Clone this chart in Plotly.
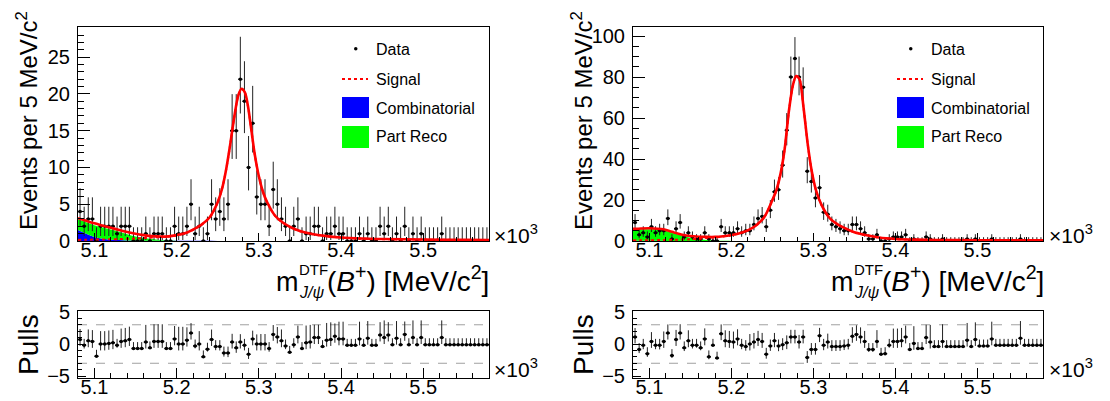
import math
import plotly.graph_objects as go

W, H = 1110, 401
FONT = "Liberation Sans, Arial, Helvetica, sans-serif"

# ---------------- data ----------------
bin_low_mev = 5080
bin_width_mev = 5
n_bins = 100
x_tick_vals = [5.1, 5.2, 5.3, 5.4, 5.5]

counts_left = [4, 2, 3, 3, 0, 2, 2, 2, 2, 1,
               2, 2, 2, 0, 0, 0, 1, 0, 1, 1,
               1, 0, 0, 2, 1, 1, 2, 5, 1, 2,
               0, 1, 5, 3, 4, 3, 5, 15, 15, 22,
               19, 10, 16, 6, 5, 5, 2, 7, 5, 3,
               2, 0, 2, 3, 0, 1, 1, 2, 2, 0,
               1, 1, 2, 1, 1, 0, 0, 0, 1, 0,
               1, 0, 0, 2, 1, 2, 0, 1, 0, 2,
               0, 1, 0, 1, 0, 0, 0, 0, 1, 0,
               0, 0, 0, 0, 0, 0, 0, 0, 0, 0]

pulls_left = [0.7, -0.2, 0.5, 0.4, -1.9, 0.0, 0.0, 0.1, 0.2, -0.2,
              0.4, 0.5, 0.7, -0.7, -0.7, -0.7, 0.3, -0.6, 0.4, 0.4,
              0.4, -0.7, -0.7, 0.8, 0.0, 0.0, 0.6, 1.7, -0.3, 0.0,
              -2.0, -0.8, 0.7, -0.4, -0.4, -1.4, -1.4, 0.3, -0.6, 0.3,
              -0.2, -1.6, 0.8, 0.0, 0.0, 0.0, -0.7, 1.5, 1.1, 0.5,
              -0.3, -1.3, -0.1, 1.1, -0.7, 0.2, 0.3, 1.0, 1.0, -0.4,
              0.6, 0.7, 1.2, 0.8, 0.8, -0.2, -0.2, -0.2, 0.8, -0.2,
              0.9, -0.2, -0.2, 1.4, 1.0, 1.4, -0.1, 0.9, -0.1, 1.5,
              -0.1, 1.0, -0.1, 1.0, -0.1, -0.1, -0.1, -0.1, 1.0, -0.1,
              -0.1, -0.1, -0.1, -0.1, -0.1, -0.1, -0.1, -0.1, -0.1, -0.1]

counts_right = [9, 3, 4, 2, 7, 4, 5, 5, 11, 1,
                6, 9, 2, 4, 2, 1, 1, 4, 1, 0,
                0, 7, 4, 4, 4, 6, 4, 5, 5, 8,
                11, 12, 7, 15, 24, 25, 37, 54, 80, 89,
                80, 75, 34, 29, 21, 26, 14, 13, 8, 7,
                6, 5, 5, 8, 8, 6, 4, 1, 1, 3,
                0, 0, 1, 2, 2, 2, 3, 0, 1, 0,
                0, 2, 1, 0, 0, 1, 0, 0, 0, 0,
                0, 1, 0, 1, 0, 0, 0, 1, 0, 0,
                0, 0, 0, 0, 1, 0, 0, 0, 0, 0]

pulls_right = [1.1, -0.85, -0.2, -1.5, 0.4, -0.2, -0.2, 0.4, 1.7, -1.8,
               0.7, 1.7, -0.6, 0.5, -0.2, -0.2, -0.6, 0.8, -2.0, -0.2,
               -2.2, 1.6, 0.5, 0.4, 0.3, 0.8, -0.2, -0.4, 0.0, 0.3,
               0.7, 0.4, -1.6, -0.3, 0.5, -0.3, -0.1, 0.2, 1.1, 1.1,
               0.3, 1.1, -2.1, -0.85, -0.85, 1.3, -0.2, 0.3, -0.4, -0.4,
               -0.4, -0.3, -0.2, 1.2, 1.5, 1.1, 0.4, -0.85, -0.85, 0.4,
               -1.6, -1.5, -0.2, 0.4, 0.4, 0.5, 1.1, -0.85, 0.1, -0.7,
               -0.7, 1.0, 0.3, -0.4, -0.4, 0.4, -0.4, -0.4, -0.4, -0.4,
               -0.4, 0.6, -0.4, 0.7, -0.3, -0.3, -0.3, 0.8, -0.2, -0.2,
               -0.2, -0.2, -0.2, -0.2, 0.9, -0.2, -0.2, -0.2, -0.2, -0.2]

# fit curves (MeV, events per bin)
mass_total_left = [5080, 5090, 5100, 5110, 5120, 5130, 5140, 5150, 5160, 5170,
                   5180, 5190, 5200, 5210, 5220, 5230, 5240, 5245, 5250, 5255,
                   5260, 5265, 5270, 5275, 5279, 5283, 5287, 5291, 5295, 5300,
                   5305, 5310, 5320, 5330, 5340, 5350, 5365, 5380, 5400, 5425,
                   5450, 5500, 5550, 5580]
total_left = [3.1, 2.75, 2.4, 2.1, 1.8, 1.5, 1.22, 0.98, 0.8, 0.66,
              0.6, 0.63, 0.8, 1.05, 1.55, 2.2, 3.2, 4.1, 5.3, 7.0,
              9.6, 13.0, 16.8, 19.8, 20.7, 20.2, 18.2, 15.0, 11.8, 8.8,
              6.7, 5.3, 3.4, 2.45, 1.8, 1.35, 0.95, 0.7, 0.48, 0.34,
              0.27, 0.2, 0.16, 0.14]
signal_left = [0.15, 0.17, 0.19, 0.21, 0.23, 0.26, 0.3, 0.34, 0.4, 0.46,
               0.53, 0.6, 0.76, 1.02, 1.53, 2.18, 3.18, 4.08, 5.28, 6.98,
               9.58, 12.98, 16.78, 19.78, 20.68, 20.18, 18.18, 14.98, 11.78, 8.78,
               6.68, 5.28, 3.38, 2.43, 1.78, 1.33, 0.93, 0.68, 0.46, 0.32,
               0.25, 0.18, 0.14, 0.12]

mass_total_right = [5080, 5090, 5100, 5110, 5117, 5125, 5130, 5140, 5150, 5160,
                    5170, 5180, 5190, 5200, 5210, 5220, 5230, 5240, 5250, 5255,
                    5260, 5265, 5270, 5275, 5279, 5283, 5288, 5293, 5298, 5303,
                    5310, 5320, 5330, 5340, 5350, 5365, 5380, 5400, 5425, 5450,
                    5500, 5550, 5580]
total_right = [5.9, 6.1, 6.2, 6.0, 5.7, 4.8, 4.2, 3.1, 2.4, 2.1,
               2.0, 2.0, 2.3, 2.9, 3.8, 5.2, 7.6, 11.6, 20.0, 25.0,
               33.0, 45.0, 63.0, 76.0, 80.5, 79.0, 65.0, 47.5, 34.0, 25.0,
               17.5, 11.1, 8.0, 6.0, 4.3, 2.8, 1.7, 1.0, 0.65, 0.5,
               0.35, 0.3, 0.3]
signal_right = [0.3, 0.35, 0.4, 0.45, 0.5, 0.55, 0.6, 0.7, 0.85, 1.1,
                1.5, 1.8, 2.2, 2.85, 3.75, 5.15, 7.55, 11.55, 19.95, 24.95,
                32.95, 44.95, 62.95, 75.95, 80.45, 78.95, 64.95, 47.45, 33.95, 24.95,
                17.45, 11.05, 7.95, 5.95, 4.25, 2.75, 1.65, 0.95, 0.6, 0.45,
                0.3, 0.25, 0.25]

mass_bkg = [5080, 5090, 5100, 5110, 5120, 5130, 5140, 5150, 5160, 5170,
            5180, 5190, 5200, 5220, 5250, 5300, 5400, 5580]
comb_left = [1.5, 1.0, 0.55, 0.3, 0.18, 0.12, 0.08, 0.06, 0.05, 0.04,
             0.03, 0.03, 0.02, 0.02, 0.01, 0.01, 0.01, 0.0]
partreco_left = [1.45, 1.55, 1.6, 1.55, 1.4, 1.15, 0.85, 0.56, 0.36, 0.22,
                 0.12, 0.06, 0.03, 0.0, 0.0, 0.0, 0.0, 0.0]
comb_right = [0.12, 0.1, 0.08, 0.07, 0.06, 0.05, 0.05, 0.04, 0.04, 0.03,
              0.03, 0.03, 0.02, 0.02, 0.02, 0.01, 0.01, 0.01]
partreco_right = [5.4, 5.6, 5.7, 5.6, 5.0, 3.7, 2.5, 1.6, 0.9, 0.45,
                  0.2, 0.08, 0.03, 0.0, 0.0, 0.0, 0.0, 0.0]

legend_labels = ["Data", "Signal", "Combinatorial", "Part Reco"]
y_title = "Events per 5 MeV/c<sup>2</sup>"
x_title_m = "m"
x_title_sup = "DTF"
x_title_sub = "<i>J/ψ</i>"
x_title_rest = "(<i>B</i><sup>+</sup>) [MeV/c<sup>2</sup>]"
pull_title = "Pulls"
pull_lines = [-3, 3]

# colours
C_SIG = "#ff0000"
C_COMB = "#0000ff"
C_PR = "#00ff00"

# ---------------- helpers ----------------
to_gev = lambda m: [v / 1000.0 for v in m]
x_lo = bin_low_mev / 1000.0
x_hi = (bin_low_mev + n_bins * bin_width_mev) / 1000.0
centers = [(bin_low_mev + (i + 0.5) * bin_width_mev) / 1000.0 for i in range(n_bins)]
half_w = bin_width_mev / 2000.0


def err_hi(n):
    return math.sqrt(n + 0.75) + 1.0


def err_lo(n):
    return math.sqrt(n - 0.25) if n > 0 else 0.0


def pull_errs(counts, pulls):
    up, dn = [], []
    for n, p in zip(counts, pulls):
        if n > 0 and p >= 0:
            dn.append(1.0)
            up.append(err_hi(n) / err_lo(n))
        else:
            up.append(1.0)
            dn.append(err_lo(n) / err_hi(n))
    return up, dn


def px(x):
    return x / W


def py(y):
    return 1 - y / H


fig = go.Figure()

panels = [
    dict(xa="x", ya="y", xp="x2", yp="y2", counts=counts_left, pulls=pulls_left,
         mt=mass_total_left, tot=total_left, sig=signal_left,
         comb=comb_left, pr=partreco_left, key="L"),
    dict(xa="x3", ya="y3", xp="x4", yp="y4", counts=counts_right, pulls=pulls_right,
         mt=mass_total_right, tot=total_right, sig=signal_right,
         comb=comb_right, pr=partreco_right, key="R"),
]

for p in panels:
    fig.add_trace(go.Scatter(x=to_gev(mass_bkg), y=p["comb"], xaxis=p["xa"], yaxis=p["ya"],
                             mode="lines", line=dict(width=0, color=C_COMB, shape="spline"),
                             stackgroup="bkg" + p["key"], fillcolor=C_COMB,
                             name="Combinatorial", showlegend=False, hoverinfo="skip"))
    fig.add_trace(go.Scatter(x=to_gev(mass_bkg), y=p["pr"], xaxis=p["xa"], yaxis=p["ya"],
                             mode="lines", line=dict(width=0, color=C_PR, shape="spline"),
                             stackgroup="bkg" + p["key"], fillcolor=C_PR,
                             name="Part Reco", showlegend=False, hoverinfo="skip"))
    c = p["counts"]
    fig.add_trace(go.Scatter(x=centers, y=c, xaxis=p["xa"], yaxis=p["ya"], mode="markers",
                             marker=dict(color="black", size=3.5),
                             error_y=dict(type="data", symmetric=False,
                                          array=[err_hi(n) for n in c],
                                          arrayminus=[err_lo(n) for n in c],
                                          color="#222222", thickness=1, width=0),
                             error_x=dict(type="constant", value=half_w, color="black",
                                          thickness=1.5, width=0),
                             name="Data", showlegend=False))
    fig.add_trace(go.Scatter(x=to_gev(p["mt"]), y=p["sig"], xaxis=p["xa"], yaxis=p["ya"],
                             mode="lines", line=dict(color=C_SIG, width=2, dash="dot",
                                                     shape="spline", smoothing=0.8),
                             name="Signal", showlegend=False))
    fig.add_trace(go.Scatter(x=to_gev(p["mt"]), y=p["tot"], xaxis=p["xa"], yaxis=p["ya"],
                             mode="lines", line=dict(color=C_SIG, width=2.6,
                                                     shape="spline", smoothing=0.8),
                             name="Total fit", showlegend=False))
    up, dn = pull_errs(c, p["pulls"])
    fig.add_trace(go.Scatter(x=centers, y=p["pulls"], xaxis=p["xp"], yaxis=p["yp"],
                             mode="markers", marker=dict(color="black", size=3.5),
                             error_y=dict(type="data", symmetric=False, array=up,
                                          arrayminus=dn, color="#222222", thickness=1, width=0),
                             error_x=dict(type="constant", value=half_w, color="black",
                                          thickness=1.5, width=0),
                             name="Pulls", showlegend=False))

# ---------------- axes ----------------
xL = [px(78), px(489)]
xR = [px(633), px(1043)]
yTop = [py(241), py(27)]
yPull = [py(378), py(311)]

tickfont = dict(family=FONT, size=20, color="black")
common = dict(showgrid=False, zeroline=False, showline=True, linecolor="black",
              linewidth=1, mirror=True, ticks="inside", tickcolor="black",
              tickfont=tickfont, automargin=False)


def xaxis(domain, anchor, ticklen):
    return dict(common, domain=domain, anchor=anchor, range=[x_lo, x_hi],
                tickvals=x_tick_vals, ticktext=[f"{v:.1f}" for v in x_tick_vals],
                ticklen=ticklen, ticklabelstandoff=-9,
                minor=dict(dtick=0.02, tick0=5.1, ticks="inside", ticklen=ticklen / 2,
                           tickcolor="black"))


fig.update_layout(
    xaxis=xaxis(xL, "y", 8),
    yaxis=dict(common, domain=yTop, anchor="x", range=[0, 29.1], dtick=5, ticklen=12,
               minor=dict(dtick=1, ticks="inside", ticklen=6, tickcolor="black"),
               ticklabelstandoff=3),
    xaxis2=xaxis(xL, "y2", 10),
    yaxis2=dict(common, domain=yPull, anchor="x2", range=[-5.3, 5.15],
                tickvals=[-5, 0, 5], ticklen=8,
                minor=dict(dtick=1, ticks="inside", ticklen=4, tickcolor="black"),
                ticklabelstandoff=3),
    xaxis3=xaxis(xR, "y3", 8),
    yaxis3=dict(common, domain=yTop, anchor="x3", range=[0, 104.4], dtick=20, ticklen=12,
                minor=dict(dtick=5, ticks="inside", ticklen=6, tickcolor="black"),
                ticklabelstandoff=3),
    xaxis4=xaxis(xR, "y4", 10),
    yaxis4=dict(common, domain=yPull, anchor="x4", range=[-5.3, 5.15],
                tickvals=[-5, 0, 5], ticklen=8,
                minor=dict(dtick=1, ticks="inside", ticklen=4, tickcolor="black"),
                ticklabelstandoff=3),
)

shapes = []
annotations = []


def ann(text, x, y, size, xanchor="left", yanchor="middle", angle=0):
    return dict(text=text, xref="paper", yref="paper", x=px(x), y=py(y),
                xanchor=xanchor, yanchor=yanchor, showarrow=False, textangle=angle,
                font=dict(family=FONT, size=size, color="black"))


for dx, xa_p, ya_p in [(0, "x2", "y2"), (555, "x4", "y4")]:
    for v in pull_lines:
        shapes.append(dict(type="line", xref=xa_p, yref=ya_p, x0=x_lo, x1=x_hi, y0=v, y1=v,
                           line=dict(color="#a0a0a0", width=1, dash="dash"), layer="below"))
    # legend
    shapes.append(dict(type="circle", xref="paper", yref="paper",
                       x0=px(354 + dx), x1=px(357.5 + dx), y0=py(50.5), y1=py(47),
                       fillcolor="black", line=dict(width=0)))
    shapes.append(dict(type="line", xref="paper", yref="paper",
                       x0=px(342 + dx), x1=px(368 + dx), y0=py(79), y1=py(79),
                       line=dict(color=C_SIG, width=2, dash="dot")))
    shapes.append(dict(type="rect", xref="paper", yref="paper",
                       x0=px(342 + dx), x1=px(369 + dx), y0=py(118), y1=py(97),
                       fillcolor=C_COMB, line=dict(width=0)))
    shapes.append(dict(type="rect", xref="paper", yref="paper",
                       x0=px(342 + dx), x1=px(369 + dx), y0=py(148), y1=py(126),
                       fillcolor=C_PR, line=dict(width=0)))
    for lab, yy in zip(legend_labels, [49, 79, 108, 137]):
        annotations.append(ann(lab, 374 + dx, yy, 16))
    # axis titles
    annotations.append(ann(y_title, 27 + dx, 121, 24, xanchor="center", angle=-90))
    annotations.append(ann(pull_title, 28 + dx, 345, 28, xanchor="center", angle=-90))
    annotations.append(ann(x_title_m, 274 + dx, 282, 27))
    annotations.append(ann(x_title_sup, 297 + dx, 269, 15))
    annotations.append(ann(x_title_sub, 297 + dx, 292, 16))
    annotations.append(ann(x_title_rest, 491 + dx, 279, 28, xanchor="right"))
    for yy in (234, 368):
        annotations.append(ann("×10<sup>3</sup>", 492 + dx, yy, 21))

fig.update_layout(width=W, height=H, margin=dict(l=0, r=0, t=0, b=0, pad=0),
                  paper_bgcolor="white", plot_bgcolor="white",
                  shapes=shapes, annotations=annotations, showlegend=False,
                  font=dict(family=FONT, color="black"))

fig.write_html("out.html", config={"displayModeBar": False},
               post_script="document.body.style.margin='0px';")
